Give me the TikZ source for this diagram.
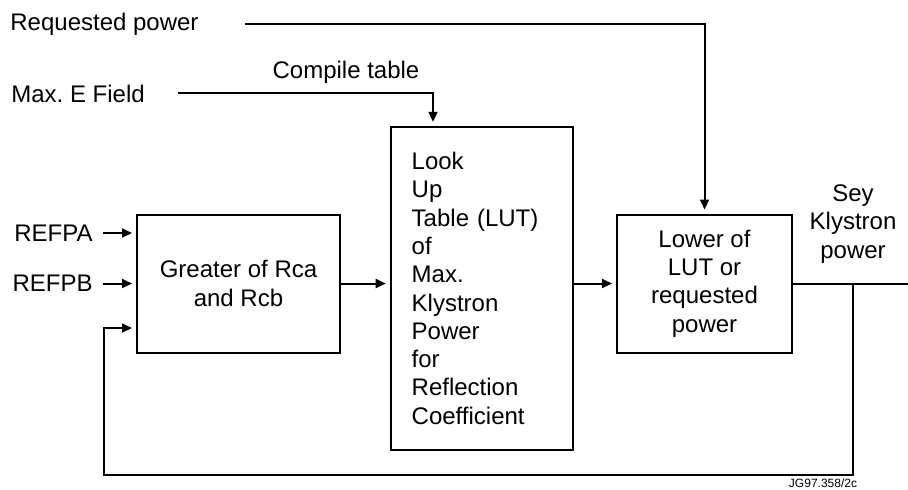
\documentclass[tikz,border=0pt]{standalone}
\usepackage{fontspec}
\setmainfont{Liberation Sans}
\usepackage{tikz}
\usetikzlibrary{arrows.meta,positioning,calc}
\frenchspacing

\begin{document}
\begin{tikzpicture}[
  x=0.5pt, y=-0.5pt,
  txt/.style={inner sep=0pt, font=\fontsize{12}{14.15}\selectfont, align=center},
  blk/.style={rectangle, draw=black, line width=1pt, inner sep=0pt,
              font=\fontsize{12}{14.15}\selectfont, align=center,
              minimum height=69pt},
  arr/.style={-{Triangle[length=5pt,width=4.5pt]}, line width=1pt, shorten >=2pt},
  ln/.style={line width=1pt}
]
\useasboundingbox (0,0) rectangle (908,489);
% blocks
\node[blk, minimum width=101.5pt] (greater) at (238.5,283.5) {Greater of Rca\\and Rcb};
\node[blk, align=left, text width=70pt, inner xsep=10.5pt, minimum height=161.5pt]
  (lut) at (481.7,288.3) {Look\\Up\\Table (LUT)\\of\\Max.\\Klystron\\Power\\for\\Reflection\\Coefficient};
\node[blk, minimum width=87.5pt] (lower) at (704.5,283.5) {Lower of\\LUT or\\requested\\power};
% inputs and labels
\node[txt, anchor=west] (reqtxt) at (10,24) {Requested power};
\node[txt, anchor=west] (maxtxt) at (11,94) {Max. E Field};
\node[txt] (compile) at (346,72) {Compile table};
\node[txt, anchor=east] (refpa) at (93,233) {REFPA};
\node[txt, anchor=east] (refpb) at (93,283.5) {REFPB};
\node[txt] (sey) at (853,224) {Sey\\Klystron\\power};
\node[txt, anchor=south, font=\fontsize{6}{7}\selectfont] (jg) at (823,488) {JG97.358/2c};
\coordinate (reqstart) at (245,24);
\coordinate (maxstart) at (178,93);
\coordinate (tap) at (853,283.5);
\coordinate (outend) at (908,283.5);
\coordinate (fbcorner) at (104,475);
% connectors
\draw[arr] (reqstart) -| (lower.north);
\draw[arr] (maxstart) -| ($(lut.north)+(-48.7,0)$);
\draw[arr] ([xshift=5pt]refpa.east) -- (refpa.east -| greater.west);
\draw[arr] ([xshift=5pt]refpb.east) -- (refpb.east -| greater.west);
\draw[arr] (greater.east) -- (greater.east -| lut.west);
\draw[arr] (lower.west -| lut.east) -- (lower.west);
\draw[ln] (lower.east) -- (outend);
\draw[arr] (tap) |- (fbcorner) |- ($(greater.west)+(0,44.5)$);
\end{tikzpicture}
\end{document}
